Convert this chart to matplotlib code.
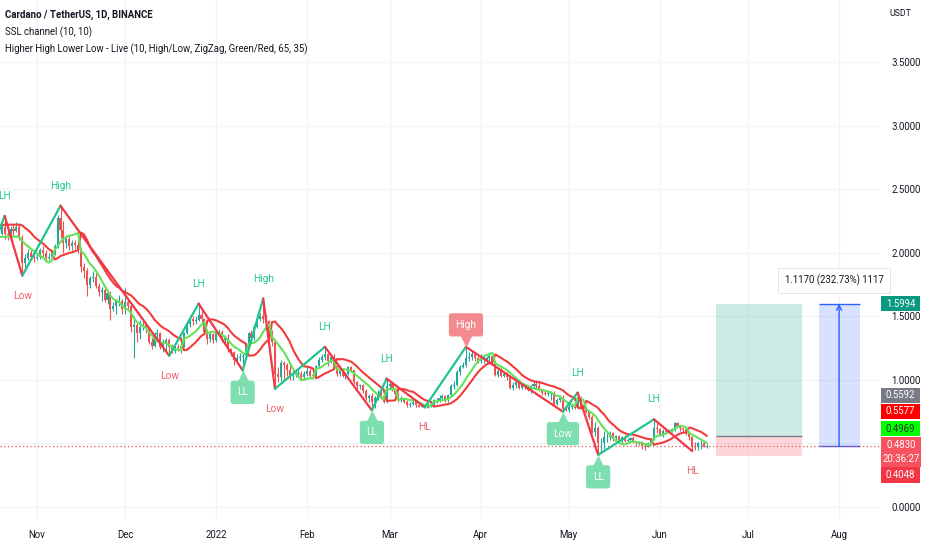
import numpy as np
import pandas as pd
import matplotlib
matplotlib.use("Agg")
import matplotlib.pyplot as plt
import matplotlib.dates as mdates
from matplotlib.transforms import offset_copy
from matplotlib.patches import Rectangle
from matplotlib import font_manager as fm

# ---------------- data (ADA/USDT daily) ----------------
start_date = "2021-10-10"
first_open = 2.17

c_oct = [2.15,2.18,2.13,2.18,2.20,2.19,2.19,2.14,2.17,2.15,2.20,2.15,2.14,2.19,2.17,2.20,2.12,1.92,1.96,2.00,1.97,1.96]
h_oct = [2.22,2.21,2.20,2.20,2.23,2.24,2.22,2.21,2.20,2.19,2.24,2.29,2.19,2.21,2.22,2.24,2.23,2.14,1.99,2.03,2.02,2.00]
l_oct = [2.10,2.12,2.08,2.11,2.15,2.15,2.16,2.12,2.11,2.12,2.14,2.11,2.10,2.12,2.14,2.16,2.10,1.82,1.87,1.94,1.94,1.93]

c_nov = [1.97,2.02,2.00,1.96,1.97,1.99,2.05,2.27,2.18,2.08,2.11,2.05,2.08,2.06,2.03,1.89,1.86,1.75,1.80,1.81,1.74,1.69,1.71,1.63,1.68,1.56,1.58,1.62,1.62,1.56]
h_nov = [2.00,2.04,2.05,2.02,2.00,2.01,2.07,2.30,2.37,2.25,2.14,2.13,2.10,2.10,2.09,2.04,1.92,1.88,1.82,1.86,1.84,1.76,1.73,1.73,1.70,1.70,1.61,1.64,1.67,1.64]
l_nov = [1.94,1.95,1.97,1.93,1.94,1.95,1.98,2.04,2.12,2.00,2.04,2.02,2.02,2.03,2.00,1.85,1.80,1.66,1.72,1.77,1.72,1.66,1.62,1.61,1.60,1.47,1.54,1.52,1.58,1.52]

c_dec = [1.61,1.58,1.42,1.43,1.37,1.42,1.43,1.41,1.30,1.27,1.36,1.37,1.26,1.29,1.31,1.26,1.23,1.26,1.25,1.27,1.37,1.44,1.48,1.46,1.47,1.51,1.48,1.38,1.32,1.36,1.31]
h_dec = [1.72,1.63,1.61,1.50,1.45,1.47,1.49,1.45,1.42,1.33,1.38,1.40,1.38,1.32,1.33,1.33,1.28,1.28,1.28,1.29,1.38,1.46,1.51,1.50,1.50,1.60,1.55,1.49,1.39,1.38,1.37]
l_dec = [1.52,1.55,1.38,1.17,1.30,1.32,1.39,1.37,1.28,1.24,1.26,1.33,1.24,1.22,1.23,1.19,1.21,1.21,1.23,1.21,1.26,1.36,1.42,1.43,1.44,1.46,1.45,1.36,1.28,1.30,1.29]

c_jan = [1.37,1.38,1.31,1.33,1.24,1.22,1.16,1.17,1.18,1.19,1.27,1.37,1.33,1.42,1.48,1.50,1.48,1.46,1.34,1.30,1.05,1.02,1.13,1.12,1.08,1.04,1.04,1.05,1.05,1.02,1.05]
h_jan = [1.39,1.40,1.39,1.35,1.36,1.25,1.23,1.20,1.21,1.21,1.28,1.38,1.39,1.44,1.51,1.53,1.64,1.52,1.47,1.39,1.32,1.10,1.16,1.15,1.13,1.14,1.08,1.07,1.08,1.07,1.07]
l_jan = [1.30,1.35,1.30,1.28,1.22,1.19,1.12,1.14,1.15,1.075,1.18,1.26,1.30,1.31,1.41,1.46,1.45,1.40,1.31,1.27,0.93,0.98,0.99,1.00,1.03,1.00,1.00,1.02,1.02,1.00,1.00]

c_feb = [1.07,1.03,1.04,1.11,1.16,1.18,1.20,1.15,1.18,1.11,1.05,1.07,1.03,1.05,1.10,1.08,0.98,0.95,0.96,0.91,0.86,0.87,0.83,0.86,0.89,0.87,0.83,0.95]
h_feb = [1.10,1.09,1.06,1.12,1.18,1.20,1.26,1.20,1.20,1.20,1.12,1.08,1.08,1.06,1.11,1.11,1.08,0.99,0.97,0.97,0.93,0.89,0.90,0.87,0.92,0.92,0.88,1.01]
l_feb = [1.03,1.02,1.01,1.03,1.10,1.14,1.16,1.11,1.13,1.09,1.03,1.03,1.02,1.01,1.04,1.06,0.97,0.93,0.93,0.90,0.84,0.83,0.76,0.78,0.84,0.85,0.82,0.82]

c_mar = [0.97,0.93,0.89,0.84,0.86,0.83,0.80,0.81,0.83,0.80,0.79,0.79,0.78,0.80,0.81,0.84,0.84,0.86,0.87,0.84,0.88,0.95,0.96,1.06,1.10,1.12,1.17,1.18,1.20,1.17,1.15]
h_mar = [0.99,0.98,0.94,0.90,0.87,0.86,0.84,0.83,0.85,0.84,0.82,0.81,0.80,0.82,0.83,0.85,0.86,0.88,0.89,0.88,0.89,0.97,0.99,1.08,1.12,1.14,1.26,1.22,1.23,1.22,1.19]
l_mar = [0.92,0.91,0.88,0.83,0.83,0.82,0.79,0.79,0.80,0.79,0.79,0.79,0.785,0.79,0.79,0.80,0.82,0.83,0.85,0.83,0.83,0.87,0.93,0.95,1.04,1.09,1.10,1.15,1.16,1.15,1.13]

c_apr = [1.16,1.16,1.17,1.19,1.14,1.04,1.07,1.03,1.05,1.02,0.94,0.96,0.98,0.94,0.96,0.95,0.92,0.95,0.97,0.95,0.92,0.90,0.89,0.89,0.90,0.81,0.84,0.86,0.77,0.76]
h_apr = [1.20,1.19,1.19,1.21,1.21,1.14,1.09,1.09,1.06,1.06,1.02,0.98,1.00,0.99,0.97,0.97,0.96,0.96,0.99,1.00,0.99,0.93,0.91,0.91,0.91,0.91,0.86,0.88,0.88,0.79]
l_apr = [1.13,1.13,1.14,1.15,1.13,1.03,1.02,1.02,1.02,1.00,0.93,0.92,0.94,0.93,0.93,0.93,0.91,0.90,0.94,0.93,0.91,0.88,0.88,0.87,0.84,0.80,0.80,0.83,0.75,0.755]

c_may = [0.79,0.80,0.78,0.86,0.79,0.78,0.75,0.71,0.59,0.62,0.50,0.50,0.55,0.55,0.58,0.54,0.56,0.52,0.55,0.52,0.53,0.54,0.51,0.50,0.51,0.48,0.47,0.50,0.53,0.62,0.61]
h_may = [0.81,0.82,0.81,0.90,0.87,0.80,0.79,0.76,0.72,0.67,0.64,0.54,0.60,0.58,0.60,0.59,0.57,0.57,0.56,0.57,0.54,0.55,0.56,0.52,0.52,0.52,0.50,0.51,0.54,0.69,0.66]
l_may = [0.75,0.77,0.77,0.77,0.78,0.76,0.74,0.69,0.58,0.56,0.41,0.43,0.46,0.51,0.53,0.52,0.53,0.51,0.50,0.51,0.51,0.52,0.50,0.48,0.49,0.46,0.45,0.47,0.49,0.53,0.58]

c_jun = [0.57,0.60,0.59,0.60,0.61,0.66,0.64,0.62,0.61,0.59,0.55,0.48,0.47,0.50,0.50,0.47,0.483]
h_jun = [0.62,0.61,0.61,0.61,0.62,0.67,0.67,0.63,0.62,0.61,0.59,0.56,0.51,0.51,0.53,0.52,0.499]
l_jun = [0.56,0.55,0.58,0.58,0.59,0.60,0.62,0.60,0.59,0.57,0.53,0.44,0.45,0.45,0.46,0.47,0.468]

# ZigZag pivots
zz_dates = ['2021-10-18','2021-10-21','2021-10-27','2021-11-09','2021-12-16','2021-12-26','2022-01-10',
            '2022-01-17','2022-01-21','2022-02-07','2022-02-23','2022-02-28','2022-03-13','2022-03-27',
            '2022-04-29','2022-05-04','2022-05-11','2022-05-30','2022-06-12']
zz_prices = [2.11, 2.29, 1.82, 2.37, 1.19, 1.60, 1.075, 1.64, 0.93, 1.26, 0.76, 1.01, 0.785, 1.26,
             0.75, 0.90, 0.41, 0.69, 0.44]
zz_labels = ['', 'LH', 'Low', 'High', 'Low', 'LH', 'LL', 'High', 'Low', 'LH', 'LL', 'LH', 'HL', 'High',
             'Low', 'LH', 'LL', 'LH', 'HL']
zz_boxed = [False, False, False, False, False, False, True, False, False, False, True, False, False, True,
            True, False, True, False, False]

# position tools
long_start, long_end = '2022-06-20', '2022-07-19 12:00'
entry_price, target_price, stop_price = 0.5592, 1.5994, 0.4048
meas_start, meas_end = '2022-07-25', '2022-08-08'
meas_low, meas_high = 0.4824, 1.5994
meas_text = "1.1170 (232.73%) 1117"
last_price = 0.4830

y_ticks = [0.0, 0.5, 1.0, 1.5, 2.0, 2.5, 3.0, 3.5]
y_tick_labels = ['0.0000', '', '1.0000', '1.5000', '2.0000', '2.5000', '3.0000', '3.5000']
x_tick_dates = ['2021-11-01','2021-12-01','2022-01-01','2022-02-01','2022-03-01','2022-04-01',
                '2022-05-01','2022-06-01','2022-07-01','2022-08-01']
x_tick_labels = ['Nov','Dec','2022','Feb','Mar','Apr','May','Jun','Jul','Aug']

# ---------------- prepare ----------------
close = np.array(c_oct + c_nov + c_dec + c_jan + c_feb + c_mar + c_apr + c_may + c_jun)
high = np.array(h_oct + h_nov + h_dec + h_jan + h_feb + h_mar + h_apr + h_may + h_jun)
low = np.array(l_oct + l_nov + l_dec + l_jan + l_feb + l_mar + l_apr + l_may + l_jun)
opn = np.r_[first_open, close[:-1]]
high = np.maximum(high, np.maximum(opn, close))
low = np.minimum(low, np.minimum(opn, close))
dates = pd.date_range(start_date, periods=len(close))
xd = mdates.date2num(dates)

# SSL channel (10)
sma_h = pd.Series(high).rolling(10).mean().to_numpy()
sma_l = pd.Series(low).rolling(10).mean().to_numpy()
hlv = np.zeros(len(close))
state = -1
for i in range(len(close)):
    if not np.isnan(sma_h[i]):
        if close[i] > sma_h[i]:
            state = 1
        elif close[i] < sma_l[i]:
            state = -1
    hlv[i] = state
ssl_down = np.where(hlv < 0, sma_h, sma_l)
ssl_up = np.where(hlv < 0, sma_l, sma_h)

# ---------------- fonts ----------------
names = {f.name for f in fm.fontManager.ttflist}
FONT = 'Liberation Sans Narrow' if 'Liberation Sans Narrow' in names else 'Roboto'
plt.rcParams['font.family'] = [FONT, 'DejaVu Sans']
FS = 7.8 if FONT == 'Liberation Sans Narrow' else 6.9

W, H = 932, 550
fig = plt.figure(figsize=(W / 100, H / 100), dpi=100)
fig.patch.set_facecolor('white')
ax_right_px, ax_bottom_px = 880, 518
ax = fig.add_axes([0, 1 - ax_bottom_px / H, ax_right_px / W, ax_bottom_px / H])
ax.set_facecolor('white')
for s in ax.spines.values():
    s.set_visible(False)

# scales
px_per_unit = 127.1
zero_px = 507
ax.set_ylim((zero_px - ax_bottom_px) / px_per_unit, zero_px / px_per_unit)
x0 = mdates.date2num(pd.Timestamp('2021-11-01')) - 37 / 2.938
x1 = mdates.date2num(pd.Timestamp('2021-11-01')) + (ax_right_px - 37) / 2.938
ax.set_xlim(x0, x1)

# grid
GRID = '#f0f3fa'
ax.set_yticks(y_ticks)
ax.set_yticklabels(y_tick_labels)
ax.set_xticks(mdates.date2num(pd.to_datetime(x_tick_dates)))
ax.set_xticklabels(x_tick_labels)
ax.grid(True, color=GRID, lw=1)
ax.set_axisbelow(True)
ax.yaxis.tick_right()
ax.tick_params(axis='y', length=0, pad=8, labelsize=FS, labelcolor='#131722')
ax.tick_params(axis='x', length=0, pad=9, labelsize=FS, labelcolor='#131722')

# long position tool
ls, le = mdates.date2num(pd.Timestamp(long_start)), mdates.date2num(pd.Timestamp(long_end))
ax.add_patch(Rectangle((ls, entry_price), le - ls, target_price - entry_price, fc='#089981', alpha=0.2, ec='none', zorder=1))
ax.add_patch(Rectangle((ls, stop_price), le - ls, entry_price - stop_price, fc='#f23645', alpha=0.2, ec='none', zorder=1))
ax.hlines(entry_price, ls, le, color='#787b86', lw=1, zorder=2)

# measure tool
ms, me = mdates.date2num(pd.Timestamp(meas_start)), mdates.date2num(pd.Timestamp(meas_end))
ax.add_patch(Rectangle((ms, meas_low), me - ms, meas_high - meas_low, fc='#2962ff', alpha=0.18, ec='none', zorder=1))
ax.hlines([meas_low, meas_high], ms, me, color='#2962ff', lw=1, zorder=2)
mc = (ms + me) / 2
ax.annotate('', xy=(mc, meas_high), xytext=(mc, meas_low),
            arrowprops=dict(arrowstyle='->', color='#2962ff', lw=1, shrinkA=0, shrinkB=0,
                            mutation_scale=9), zorder=3)
ax.annotate(meas_text, (mc, meas_high), xytext=(-5, 23), textcoords='offset pixels', ha='center', va='center',
            fontsize=FS, color='#131722', zorder=10, annotation_clip=False,
            bbox=dict(boxstyle='square,pad=0.7', fc='white', ec='#e0e3eb', lw=0.6))

# current price line
ax.axhline(last_price, color='#ef5350', lw=0.9, ls=(0, (1, 2)), zorder=2)

# candles
UP, DN = '#26a69a', '#ef5350'
colors = np.where(close >= opn, UP, DN)
ax.vlines(xd, low, high, colors=colors, lw=0.8, zorder=3)
body_b = np.minimum(opn, close)
body_h = np.maximum(np.abs(close - opn), 0.004)
ax.bar(xd, body_h, bottom=body_b, width=0.7, color=colors, edgecolor='none', zorder=4)

# SSL lines
ax.plot(xd, ssl_down, color='#f23b3b', lw=1.5, zorder=5, solid_capstyle='round')
ax.plot(xd, ssl_up, color='#62e25a', lw=1.5, zorder=5, solid_capstyle='round')

# zigzag
ZG, ZR = '#1fc48c', '#f23645'
zx = mdates.date2num(pd.to_datetime(zz_dates))
for i in range(len(zx) - 1):
    col = ZG if zz_prices[i + 1] > zz_prices[i] else ZR
    ax.plot(zx[i:i + 2], zz_prices[i:i + 2], color=col, lw=1.6, zorder=6, solid_capstyle='round')

TXT_G, TXT_R = '#26c98f', '#f0606a'
BOX_G, BOX_R = '#7ddfb0', '#f28a90'
LFS = FS + 0.4
for x, p, lab, boxed in zip(zx, zz_prices, zz_labels, zz_boxed):
    if not lab:
        continue
    is_high = lab in ('High', 'LH', 'HH')
    if not boxed:
        off = 20 if is_high else -20
        ax.annotate(lab, (x, p), xytext=(0, off), textcoords='offset pixels', ha='center', va='center',
                    fontsize=LFS, color=TXT_G if is_high else TXT_R, zorder=8, annotation_clip=False)
    else:
        fc = BOX_R if is_high else BOX_G
        off = 22 if is_high else -22
        ax.annotate(lab, (x, p), xytext=(0, off), textcoords='offset pixels', ha='center', va='center',
                    fontsize=LFS, color='white', zorder=8,
                    bbox=dict(boxstyle='round,pad=0.65,rounding_size=0.25', fc=fc, ec='none'))
        tr = offset_copy(ax.transData, fig=fig, x=0, y=(6 if is_high else -6), units='dots')
        ax.plot([x], [p], marker='v' if is_high else '^', ms=8, color=fc, mec='none', transform=tr, zorder=7)

# ---------------- right-side price tags (figure pixels) ----------------
def tag(top, bottom, lines, bg, fg, left=881, right=920):
    fig.add_artist(Rectangle((left / W, 1 - bottom / H), (right - left) / W, (bottom - top) / H,
                             transform=fig.transFigure, fc=bg, ec='none', zorder=5))
    n = len(lines)
    step = (bottom - top) / n
    for k, t in enumerate(lines):
        yc = top + step * (k + 0.5)
        fig.text((left + right) / 2 / W, 1 - yc / H, t, ha='center', va='center', fontsize=FS,
                 color=fg, zorder=6)

y_target_px = zero_px - target_price * px_per_unit
tag(y_target_px - 7.5, y_target_px + 7.5, ["1.5994"], '#089981', 'white')
tag(388, 403, ["0.5592"], '#787b86', 'white')
tag(404, 419, ["0.5577"], '#ff0000', 'white')
tag(421, 436, ["0.4969"], '#00ff00', '#333333')
tag(437, 467, ["0.4830", "20:36:27"], '#f7525f', 'white', right=921)
tag(467, 483, ["0.4048"], '#f23645', 'white')

fig.text(889 / W, 1 - 14 / H, "USDT", ha='left', va='center', fontsize=FS - 0.6, color='#131722')

# legend texts
fig.text(5 / W, 1 - 15 / H, "Cardano / TetherUS, 1D, BINANCE", ha='left', va='center', fontsize=FS,
         color='#131722', fontweight='bold')
fig.text(5 / W, 1 - 32 / H, "SSL channel (10, 10)", ha='left', va='center', fontsize=FS, color='#131722')
fig.text(5 / W, 1 - 49 / H, "Higher High Lower Low - Live (10, High/Low, ZigZag, Green/Red, 65, 35)",
         ha='left', va='center', fontsize=FS, color='#131722')

fig.savefig("out.png", dpi=100, facecolor='white')
